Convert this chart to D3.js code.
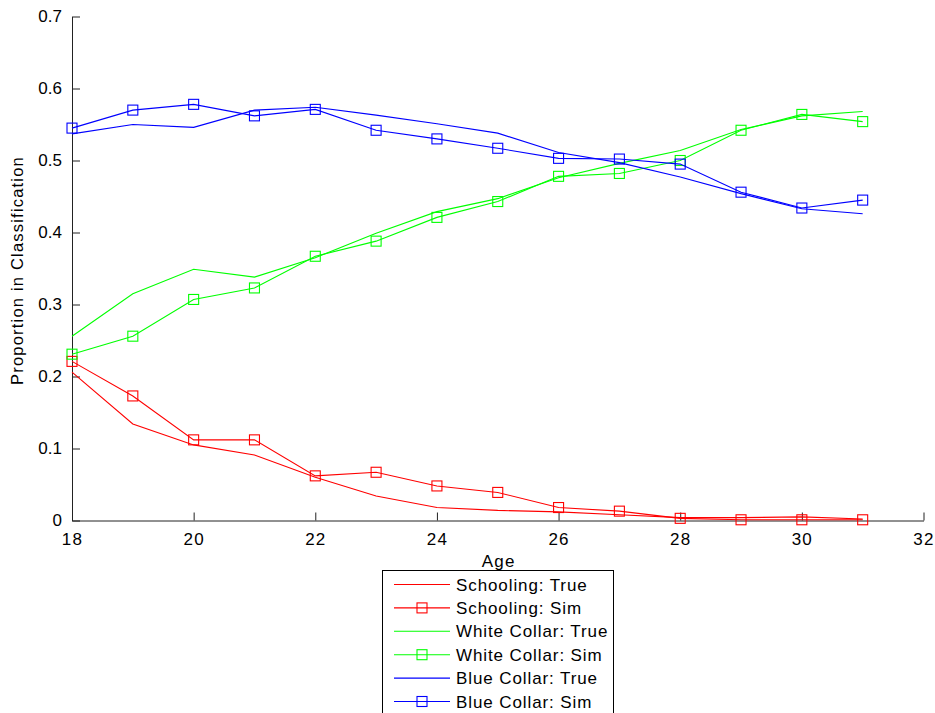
<!DOCTYPE html>
<html>
<head>
<meta charset="utf-8">
<script src="https://cdn.jsdelivr.net/npm/d3@7"></script>
<style>
  html, body { margin: 0; padding: 0; background: #fff; }
  svg { display: block; font-family: "Liberation Sans", Arial, Helvetica, sans-serif; }
</style>
</head>
<body>
<svg id="chart" width="935" height="713"></svg>
<script>
// Ages observed
const ages = [18, 19, 20, 21, 22, 23, 24, 25, 26, 27, 28, 29, 30, 31];

// Proportion of people in each classification, true vs simulated
const schoolingTrue   = [0.206, 0.134, 0.105, 0.091, 0.060, 0.034, 0.018, 0.014, 0.012, 0.008, 0.004, 0.004, 0.005, 0.002];
const schoolingSim    = [0.221, 0.173, 0.112, 0.112, 0.062, 0.067, 0.048, 0.039, 0.018, 0.013, 0.003, 0.001, 0.001, 0.001];
const whiteCollarTrue = [0.256, 0.315, 0.349, 0.338, 0.365, 0.399, 0.429, 0.447, 0.476, 0.496, 0.514, 0.543, 0.562, 0.568];
const whiteCollarSim  = [0.231, 0.256, 0.307, 0.323, 0.367, 0.388, 0.421, 0.443, 0.478, 0.482, 0.500, 0.542, 0.564, 0.554];
const blueCollarTrue  = [0.537, 0.550, 0.546, 0.570, 0.574, 0.563, 0.551, 0.538, 0.511, 0.497, 0.477, 0.454, 0.433, 0.426];
const blueCollarSim   = [0.545, 0.570, 0.578, 0.562, 0.571, 0.542, 0.530, 0.517, 0.503, 0.502, 0.495, 0.456, 0.434, 0.445];

const xTicks = [18, 20, 22, 24, 26, 28, 30, 32];
const yTicks = [0, 0.1, 0.2, 0.3, 0.4, 0.5, 0.6, 0.7];

const series = [
  { name: "Schooling: True",    values: schoolingTrue,   color: "#ff0000", marker: false },
  { name: "Schooling: Sim",     values: schoolingSim,    color: "#ff0000", marker: true },
  { name: "White Collar: True", values: whiteCollarTrue, color: "#00ff00", marker: false },
  { name: "White Collar: Sim",  values: whiteCollarSim,  color: "#00ff00", marker: true },
  { name: "Blue Collar: True",  values: blueCollarTrue,  color: "#0000ff", marker: false },
  { name: "Blue Collar: Sim",   values: blueCollarSim,   color: "#0000ff", marker: true }
];

const svg = d3.select("#chart");
const plotLeft = 72, plotRight = 923.5, plotTop = 16.5, plotBottom = 520.5;

const x = d3.scaleLinear().domain([18, 32]).range([plotLeft, plotRight]);
const y = d3.scaleLinear().domain([0, 0.7]).range([plotBottom, plotTop]);

const axisColor = "#222";
const fontSize = 17;

// Axes with inward ticks
const xAxis = svg.append("g")
  .attr("transform", `translate(0,${plotBottom})`)
  .call(d3.axisBottom(x).tickValues(xTicks).tickSizeInner(-8).tickSizeOuter(0).tickPadding(12).tickFormat(d3.format("d")));
const yAxis = svg.append("g")
  .attr("transform", `translate(${plotLeft},0)`)
  .call(d3.axisLeft(y).tickValues(yTicks).tickSizeInner(-8).tickSizeOuter(0).tickPadding(10)
    .tickFormat(d => d === 0 ? "0" : d3.format(".1f")(d)));

[xAxis, yAxis].forEach(g => {
  g.select(".domain").attr("stroke", axisColor).attr("stroke-width", 1);
  g.selectAll(".tick line").attr("stroke", axisColor).attr("stroke-width", 1);
  g.selectAll(".tick text")
    .attr("fill", "#000")
    .style("font-size", fontSize + "px")
    .style("font-family", "'Liberation Sans', Arial, sans-serif");
});
xAxis.selectAll(".tick text").attr("dy", "0.71em").style("letter-spacing", "1.2px");

// Axis titles
svg.append("text")
  .attr("x", (plotLeft + plotRight) / 2 + 1)
  .attr("y", 567)
  .attr("text-anchor", "middle")
  .style("font-size", "17px")
  .style("letter-spacing", "1.2px")
  .text("Age");

svg.append("text")
  .attr("transform", `translate(23,${(plotTop + plotBottom) / 2 + 2}) rotate(-90)`)
  .attr("text-anchor", "middle")
  .style("font-size", "16.5px")
  .style("letter-spacing", "1.2px")
  .text("Proportion in Classification");

// Series lines and markers
const line = d3.line()
  .x((d, i) => x(ages[i]))
  .y(d => y(d));

const markerSize = 10;

series.forEach(s => {
  const g = svg.append("g");
  g.append("path")
    .datum(s.values)
    .attr("fill", "none")
    .attr("stroke", s.color)
    .attr("stroke-width", 1.1)
    .attr("d", line);
  if (s.marker) {
    g.selectAll("rect")
      .data(s.values)
      .join("rect")
      .attr("x", (d, i) => x(ages[i]) - markerSize / 2)
      .attr("y", d => y(d) - markerSize / 2)
      .attr("width", markerSize)
      .attr("height", markerSize)
      .attr("fill", "none")
      .attr("stroke", s.color)
      .attr("stroke-width", 1.1);
  }
});

// Legend
const legendX = 382.5, legendY = 570.5, legendW = 231, rowH = 23.4;
const legend = svg.append("g");
legend.append("rect")
  .attr("x", legendX)
  .attr("y", legendY)
  .attr("width", legendW)
  .attr("height", 160)
  .attr("fill", "#fff")
  .attr("stroke", "#000")
  .attr("stroke-width", 1);

series.forEach((s, i) => {
  const cy = 584.5 + i * rowH;
  legend.append("line")
    .attr("x1", 394).attr("x2", 450)
    .attr("y1", cy).attr("y2", cy)
    .attr("stroke", s.color)
    .attr("stroke-width", 1.1);
  if (s.marker) {
    legend.append("rect")
      .attr("x", 422 - markerSize / 2)
      .attr("y", cy - markerSize / 2)
      .attr("width", markerSize)
      .attr("height", markerSize)
      .attr("fill", "none")
      .attr("stroke", s.color)
      .attr("stroke-width", 1.1);
  }
  legend.append("text")
    .attr("x", 456)
    .attr("y", cy)
    .attr("dy", "0.36em")
    .style("font-size", fontSize + "px")
    .style("letter-spacing", "0.9px")
    .text(s.name);
});
</script>
</body>
</html>
